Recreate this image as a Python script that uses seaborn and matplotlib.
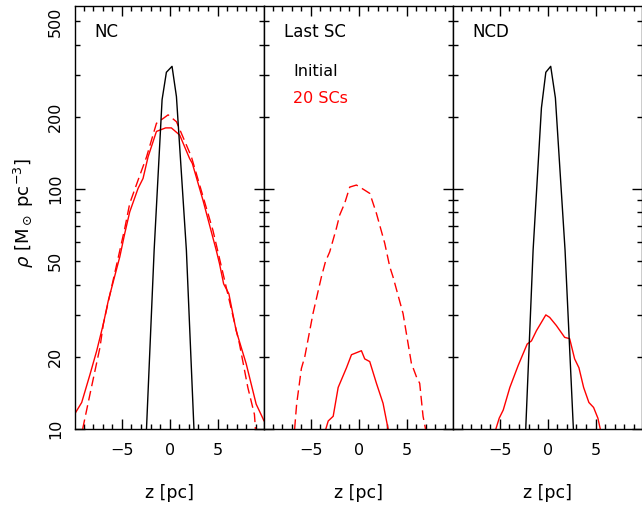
import matplotlib
matplotlib.use("Agg")
import matplotlib.pyplot as plt
import seaborn as sns
from matplotlib.ticker import MultipleLocator, FuncFormatter, NullFormatter

# ---------------- data ----------------
panel_titles = ["NC", "Last SC", "NCD"]

# Panel NC
nc_init_z = [-2.43, -1.63, -0.8, -0.35, 0.24, 0.7, 1.74, 2.53]
nc_init_rho = [10, 55.6, 236, 307, 325, 243, 55.6, 10]

nc_sc_z = [-9.9, -9.2, -8.33, -7.63, -6.94, -6.42, -5.73, -5.22, -4.7, -4.18, -3.31,
           -2.79, -2.26, -1.39, -0.43, 0.17, 1.04, 2.08, 2.36, 3.47, 4.86, 5.2,
           5.63, 6.18, 6.94, 7.99, 9.03, 9.72, 9.85]
nc_sc_rho = [11.6, 12.9, 16.9, 21.2, 27.4, 34.3, 43.7, 52.2, 65.4, 80.4, 100.7,
             110.8, 136.5, 174, 180, 180, 168, 134, 128, 90, 55.6, 48.9,
             40.3, 36.6, 25.7, 18.7, 12.7, 11.1, 10.8]

nc_sc_dash_z = [-9.1, -8.33, -7.29, -6.94, -4.7, -4.18, -3.31, -2.43, -1.39, -0.17,
                0.7, 2.26, 4.51, 7.29, 8.16, 8.85, 8.96]
nc_sc_dash_rho = [10, 14, 21.9, 27.4, 68.6, 87.2, 109, 136, 188, 204,
                  191, 136.5, 67.4, 22.6, 14.9, 11.5, 10]

# Panel Last SC
last_sc_z = [-3.44, -3.19, -2.67, -2.15, -1.28, -0.76, 0.28, 0.625, 1.15, 1.85,
             2.54, 3.07]
last_sc_rho = [10, 10.8, 11.3, 14.9, 18.0, 20.4, 21.2, 19.6, 19.1, 15.5,
               12.8, 10]

last_sc_dash_z = [-6.7, -6.49, -5.99, -5.64, -4.78, -3.9, -3.48, -3.03, -2.33,
                  -1.99, -1.46, -0.94, -0.24, 0.625, 1.15, 1.33, 1.85, 2.72,
                  3.24, 3.58, 4.63, 5.5, 6.03, 6.37, 6.72, 6.98]
last_sc_dash_rho = [10, 12.7, 17.9, 20, 30.3, 43.1, 49.8, 54.8, 68.8,
                    78, 87.5, 102, 104, 99, 96, 91.5, 79.2, 59.4,
                    47.5, 43.1, 30.3, 18.8, 16.5, 15.5, 11.3, 10]

# Panel NCD
ncd_init_z = [-2.3, -1.53, -0.66, -0.2, 0.31, 0.8, 1.81, 2.68]
ncd_init_rho = [10, 55.6, 218, 307, 325, 240, 55.6, 10]

ncd_sc_z = [-5.42, -5.07, -4.65, -3.96, -3.09, -2.15, -1.7, -1.18, -0.2, 0.2,
            0.9, 1.77, 2.29, 2.81, 3.26, 3.75, 4.3, 4.79, 5.24, 5.49]
ncd_sc_rho = [10, 11.1, 12.0, 14.9, 18.4, 22.6, 23.3, 25.7, 29.9, 29.2,
              27, 24.1, 23.8, 19.6, 18.0, 14.9, 12.9, 12.3, 11.1, 10]

x_ticks = [-5, 0, 5]
x_tick_labels = ["\u22125", "0", "5"]
y_major = [10, 100]
y_minor = [20, 30, 40, 50, 60, 70, 80, 90, 200, 300, 400, 500]
y_labelled = [10, 20, 50, 100, 200, 500]
legend_labels = ["Initial", "20 SCs"]

# ---------------- style ----------------
sns.set_theme(style="ticks")
plt.rcParams["font.family"] = ["DejaVu Sans"]
plt.rcParams["mathtext.fontset"] = "dejavusans"
plt.rcParams["axes.linewidth"] = 1.0

BLACK = "#000000"
RED = "#ff0000"
DASH = (0, (7, 3.5))

fig = plt.figure(figsize=(6.42, 5.09), dpi=100)
W, H = 642, 509
axes = [fig.add_axes([(75 + i * 189) / W, 80 / H, 189 / W, 423 / H]) for i in range(3)]

series = [
    [(nc_sc_dash_z, nc_sc_dash_rho, RED, DASH),
     (nc_sc_z, nc_sc_rho, RED, "-"),
     (nc_init_z, nc_init_rho, BLACK, "-")],
    [(last_sc_dash_z, last_sc_dash_rho, RED, DASH),
     (last_sc_z, last_sc_rho, RED, "-")],
    [(ncd_sc_z, ncd_sc_rho, RED, "-"),
     (ncd_init_z, ncd_init_rho, BLACK, "-")],
]

for i, ax in enumerate(axes):
    ax.set_facecolor("white")
    for z, rho, col, ls in series[i]:
        sns.lineplot(x=z, y=rho, ax=ax, color=col, linewidth=1.0,
                     linestyle=ls, sort=False, estimator=None)
    ax.set_yscale("log")
    ax.set_ylim(10, 580)
    ax.set_xlim(-9.9, 9.85)
    ax.set_xticks(x_ticks)
    ax.set_xticklabels(x_tick_labels)
    ax.xaxis.set_minor_locator(MultipleLocator(1))
    ax.set_yticks(y_major)
    ax.set_yticks(y_minor, minor=True)
    ax.tick_params(which="major", direction="in", length=7, width=1.0,
                   top=True, right=True, bottom=True, left=True,
                   labelsize=11.5, colors="black")
    ax.tick_params(which="minor", direction="in", length=3.8, width=1.0,
                   top=True, right=True, bottom=True, left=True,
                   labelsize=11.5, colors="black")
    ax.tick_params(axis="x", which="both", pad=10)
    ax.tick_params(axis="y", which="both", pad=8.5)
    if i == 0:
        fmt = FuncFormatter(lambda v, p: f"{int(round(v))}" if int(round(v)) in y_labelled else "")
        ax.yaxis.set_major_formatter(fmt)
        ax.yaxis.set_minor_formatter(fmt)
        ax.tick_params(axis="y", which="both", labelrotation=90)
        for lab in ax.get_yticklabels(which="both"):
            lab.set_verticalalignment("center")
    else:
        ax.yaxis.set_major_formatter(NullFormatter())
        ax.yaxis.set_minor_formatter(NullFormatter())
    ax.set_xlabel("z [pc]", fontsize=12.5, color="black")
    ax.xaxis.set_label_coords(0.5, -0.13)
    ax.set_ylabel("")
    for sp in ax.spines.values():
        sp.set_color("black")
        sp.set_linewidth(1.0)
    ax.text(0.105, 0.927, panel_titles[i], transform=ax.transAxes,
            fontsize=12, color="black", va="baseline", ha="left")

axes[1].text(0.153, 0.8345, legend_labels[0], transform=axes[1].transAxes,
             fontsize=11.5, color=BLACK, va="baseline", ha="left")
axes[1].text(0.153, 0.7707, legend_labels[1], transform=axes[1].transAxes,
             fontsize=11.5, color=RED, va="baseline", ha="left")

fig.text(24 / W, 1 - 213 / H, r"$\rho$ [M$_\odot$ pc$^{-3}$]", rotation=90,
         ha="center", va="center", fontsize=13, color="black")

fig.savefig("out.png", dpi=100, facecolor="white")
